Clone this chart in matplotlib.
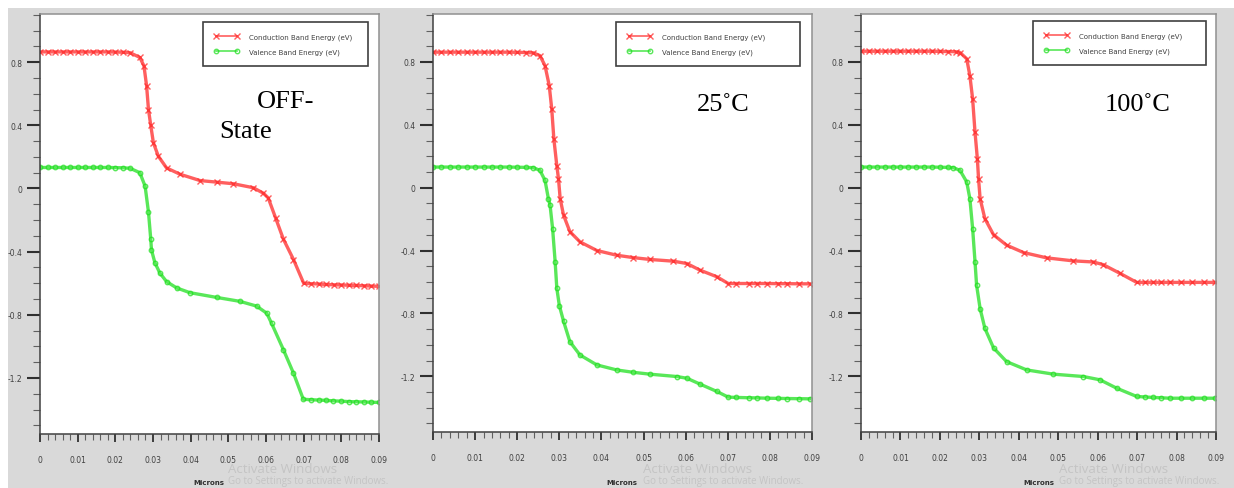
import matplotlib
matplotlib.use("Agg")
import matplotlib.pyplot as plt
from matplotlib.patches import Rectangle
from matplotlib.ticker import MultipleLocator, FixedLocator

# ---------------- data ----------------
panel_titles = ["OFF-\nState", "25˚C", "100˚C"]
legend_labels = ["Conduction Band Energy (eV)", "Valence Band Energy (eV)"]
x_ticks = [0, 0.01, 0.02, 0.03, 0.04, 0.05, 0.06, 0.07, 0.08, 0.09]
x_tick_labels = ["0", "0.01", "0.02", "0.03", "0.04", "0.05", "0.06", "0.07", "0.08", "0.09"]
y_ticks = [-1.2, -0.8, -0.4, 0, 0.4, 0.8]
y_tick_labels = ["-1.2", "-0.8", "-0.4", "0", "0.4", "0.8"]

# Panel 1: OFF-state
off_cb_x = [0, 0.002, 0.004, 0.006, 0.008, 0.010, 0.012, 0.014, 0.016, 0.018, 0.020, 0.022,
            0.0239, 0.0265, 0.0276, 0.0283, 0.0288, 0.0294, 0.0301, 0.0314, 0.0336, 0.0372,
            0.0425, 0.0470, 0.0513, 0.0566, 0.0593, 0.0606, 0.0626, 0.0646, 0.0673, 0.0700,
            0.0720, 0.0740, 0.0760, 0.0780, 0.0800, 0.0820, 0.0840, 0.0860, 0.0880, 0.0900]
off_cb_y = [0.865, 0.865, 0.865, 0.865, 0.865, 0.865, 0.865, 0.865, 0.865, 0.865, 0.864, 0.863,
            0.86, 0.83, 0.776, 0.65, 0.50, 0.40, 0.29, 0.205, 0.13, 0.09,
            0.05, 0.04, 0.03, 0.005, -0.03, -0.06, -0.19, -0.32, -0.45, -0.60,
            -0.603, -0.605, -0.608, -0.61, -0.611, -0.613, -0.614, -0.616, -0.618, -0.62]
off_vb_x = [0, 0.002, 0.004, 0.006, 0.008, 0.010, 0.012, 0.014, 0.016, 0.018, 0.020, 0.022,
            0.0239, 0.0265, 0.0279, 0.0288, 0.0294, 0.0296, 0.0305, 0.0318, 0.0336, 0.0363,
            0.0398, 0.0469, 0.0531, 0.0575, 0.0602, 0.0615, 0.0646, 0.0673, 0.0699, 0.0720,
            0.0740, 0.0760, 0.0778, 0.0800, 0.0820, 0.0840, 0.0860, 0.0880, 0.0900]
off_vb_y = [0.133, 0.133, 0.133, 0.133, 0.133, 0.133, 0.133, 0.133, 0.133, 0.133, 0.132, 0.131,
            0.128, 0.10, 0.015, -0.15, -0.32, -0.39, -0.47, -0.535, -0.59, -0.63,
            -0.66, -0.69, -0.715, -0.745, -0.79, -0.855, -1.02, -1.17, -1.335, -1.338,
            -1.34, -1.342, -1.345, -1.347, -1.35, -1.351, -1.352, -1.354, -1.355]

# Panel 2: 25 C
t25_cb_x = [0, 0.002, 0.004, 0.006, 0.008, 0.010, 0.012, 0.014, 0.016, 0.018, 0.020, 0.022,
            0.0238, 0.0254, 0.0266, 0.0276, 0.0282, 0.0287, 0.0294, 0.0298, 0.0302, 0.0310,
            0.0325, 0.0349, 0.0389, 0.0436, 0.0475, 0.0515, 0.0571, 0.0603, 0.0634, 0.0674,
            0.0701, 0.0720, 0.0750, 0.0770, 0.0793, 0.0820, 0.0840, 0.0870, 0.0895]
t25_cb_y = [0.862, 0.862, 0.862, 0.862, 0.862, 0.862, 0.862, 0.862, 0.862, 0.862, 0.861, 0.860,
            0.858, 0.84, 0.776, 0.65, 0.50, 0.31, 0.14, 0.057, -0.07, -0.175,
            -0.28, -0.345, -0.40, -0.43, -0.445, -0.457, -0.468, -0.483, -0.525, -0.567,
            -0.61, -0.61, -0.61, -0.61, -0.61, -0.611, -0.611, -0.612, -0.612]
t25_vb_x = [0, 0.002, 0.004, 0.006, 0.008, 0.010, 0.012, 0.014, 0.016, 0.018, 0.020, 0.022,
            0.0238, 0.0254, 0.0266, 0.0274, 0.0278, 0.0284, 0.0290, 0.0294, 0.0300, 0.0310,
            0.0325, 0.0349, 0.0389, 0.0436, 0.0475, 0.0515, 0.0579, 0.0603, 0.0634, 0.0674,
            0.0701, 0.0720, 0.0750, 0.0770, 0.0793, 0.0820, 0.0840, 0.0870, 0.0895]
t25_vb_y = [0.131, 0.131, 0.131, 0.131, 0.131, 0.131, 0.131, 0.131, 0.131, 0.131, 0.130, 0.129,
            0.127, 0.11, 0.046, -0.07, -0.112, -0.26, -0.47, -0.64, -0.75, -0.85,
            -0.98, -1.065, -1.128, -1.16, -1.175, -1.187, -1.202, -1.213, -1.25, -1.297,
            -1.333, -1.335, -1.337, -1.338, -1.34, -1.341, -1.342, -1.343, -1.344]

# Panel 3: 100 C
t100_cb_x = [0, 0.002, 0.004, 0.006, 0.008, 0.010, 0.012, 0.014, 0.016, 0.018, 0.020, 0.022,
             0.0240, 0.0251, 0.0268, 0.0276, 0.0283, 0.0289, 0.0295, 0.0298, 0.0302, 0.0314,
             0.0336, 0.0369, 0.0412, 0.0471, 0.0538, 0.0589, 0.0614, 0.0657, 0.0699, 0.0720,
             0.0740, 0.0760, 0.0783, 0.0810, 0.0840, 0.0870, 0.0897]
t100_cb_y = [0.868, 0.868, 0.868, 0.868, 0.868, 0.868, 0.868, 0.868, 0.868, 0.868, 0.867, 0.866,
             0.865, 0.86, 0.82, 0.713, 0.565, 0.354, 0.184, 0.057, -0.07, -0.197,
             -0.30, -0.366, -0.413, -0.447, -0.466, -0.473, -0.49, -0.546, -0.603, -0.603,
             -0.603, -0.603, -0.603, -0.603, -0.603, -0.603, -0.603]
t100_vb_x = [0, 0.002, 0.004, 0.006, 0.008, 0.010, 0.012, 0.014, 0.016, 0.018, 0.020, 0.022,
             0.0234, 0.0251, 0.0268, 0.0276, 0.0283, 0.0289, 0.0293, 0.0302, 0.0314, 0.0336,
             0.0369, 0.0420, 0.0488, 0.0564, 0.0606, 0.0648, 0.0699, 0.0720, 0.0740, 0.0760,
             0.0783, 0.0810, 0.0840, 0.0870, 0.0897]
t100_vb_y = [0.131, 0.131, 0.131, 0.131, 0.131, 0.131, 0.131, 0.131, 0.131, 0.131, 0.130, 0.129,
             0.127, 0.11, 0.036, -0.07, -0.26, -0.47, -0.62, -0.77, -0.895, -1.02,
             -1.107, -1.16, -1.187, -1.202, -1.223, -1.276, -1.329, -1.332, -1.335, -1.337,
             -1.34, -1.34, -1.34, -1.34, -1.34]

panels = [
    (off_cb_x, off_cb_y, off_vb_x, off_vb_y),
    (t25_cb_x, t25_cb_y, t25_vb_x, t25_vb_y),
    (t100_cb_x, t100_cb_y, t100_vb_x, t100_vb_y),
]

# ---------------- layout ----------------
W, H = 1234, 489
fig = plt.figure(figsize=(W / 100, H / 100), dpi=100)
fig.patch.set_facecolor("white")
fig.patches.append(Rectangle((8 / W, 0), 1 - 8 / W, 1 - 9 / H, transform=fig.transFigure,
                             facecolor="#d9d9d9", edgecolor="none", zorder=-10))

# axes boxes in pixels: left, right, top, bottom
boxes = [(40, 379, 15, 435), (433, 812, 15, 433), (861, 1216, 15, 433)]
legend_boxes = [(203, 368, 23), (616, 800, 23), (1033, 1206, 22)]
title_pos = [[(257, 108, "OFF-"), (219, 138, "State")], [(697, 111, "25˚C")], [(1105, 111, "100˚C")]]
microns_x = [209, 622, 1039]
watermark_x = [228, 643, 1059]

RED = "#ff2a2a"
GREEN = "#22e022"

for i, (cbx, cby, vbx, vby) in enumerate(panels):
    l, r, t, b = boxes[i]
    ax = fig.add_axes([l / W, 1 - b / H, (r - l) / W, (b - t) / H])
    ax.set_facecolor("white")
    cb_line, = ax.plot(cbx, cby, color=RED, lw=2.4, alpha=0.75, marker="x", ms=4, mew=1.0,
                       label=legend_labels[0])
    vb_line, = ax.plot(vbx, vby, color=GREEN, lw=2.4, alpha=0.75, marker="o", ms=3.2,
                       mfc="none", mew=1.0, label=legend_labels[1])
    ax.set_xlim(0, 0.09)
    ax.set_ylim(-1.555, 1.105)

    ax.xaxis.set_major_locator(FixedLocator(x_ticks))
    ax.set_xticklabels(x_tick_labels)
    ax.xaxis.set_minor_locator(MultipleLocator(0.002))
    ax.yaxis.set_major_locator(FixedLocator(y_ticks))
    ax.set_yticklabels(y_tick_labels)
    ax.yaxis.set_minor_locator(MultipleLocator(0.1))

    ax.tick_params(axis="both", which="both", direction="out", colors="#303030",
                   labelsize=5.5, labelcolor="#404040", top=False, right=False)
    ax.tick_params(axis="y", which="major", length=9.5, width=1.5, pad=3)
    ax.tick_params(axis="y", which="minor", length=5, width=0.8, color="#606060")
    ax.tick_params(axis="x", which="major", length=6, width=1.3, pad=9)
    ax.tick_params(axis="x", which="minor", length=4, width=0.8, color="#606060")

    for side in ["left", "bottom"]:
        ax.spines[side].set_color("#404040")
        ax.spines[side].set_linewidth(1.1)
    for side in ["top", "right"]:
        ax.spines[side].set_color("#909090")
        ax.spines[side].set_linewidth(1.1)

    # legend
    ll, lr, lt = legend_boxes[i]
    x0 = (ll - l) / (r - l)
    wdt = (lr - ll) / (r - l)
    y1 = 1 - (lt - t) / (b - t)
    leg = ax.legend(handles=[cb_line, vb_line], loc="upper left",
                    bbox_to_anchor=(x0, y1 - 0.2, wdt, 0.2), bbox_transform=ax.transAxes,
                    mode="expand", borderaxespad=0, fontsize=5, numpoints=2,
                    handlelength=3.6, handletextpad=1.4, borderpad=1.6, labelspacing=1.25,
                    fancybox=False, framealpha=1, edgecolor="#404040")
    leg.get_frame().set_linewidth(1.2)
    for line in leg.get_lines():
        line.set_linewidth(1.2)
    for txt in leg.get_texts():
        txt.set_color("#404040")

    for (px, py, s) in title_pos[i]:
        fig.text(px / W, 1 - py / H, s, fontsize=19, family="Liberation Serif",
                 ha="left", va="baseline", color="black")

    fig.text(microns_x[i] / W, 1 - 483 / H, "Microns", fontsize=5, fontweight="bold",
             ha="center", va="center", color="#303030")
    fig.text(watermark_x[i] / W, 1 - 470 / H, "Activate Windows", fontsize=9.5,
             family="Open Sans", ha="left", va="center", color="#c4c4c4")
    fig.text(watermark_x[i] / W, 1 - 482 / H, "Go to Settings to activate Windows.",
             fontsize=7, family="Open Sans", ha="left", va="center", color="#c4c4c4")

fig.savefig("out.png", dpi=100, facecolor=fig.get_facecolor())
